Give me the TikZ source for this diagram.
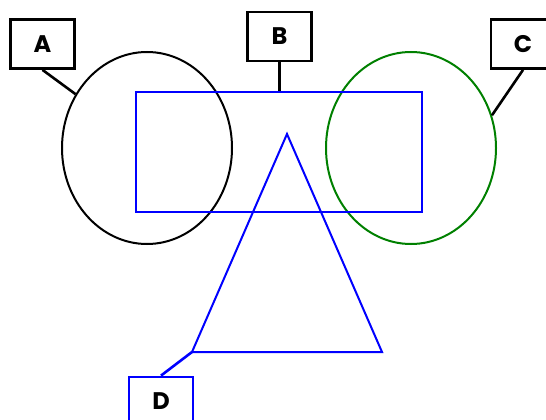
\documentclass[tikz,border=0pt]{standalone}
\usepackage{fontspec}
\setmainfont{Poppins}
\usetikzlibrary{shapes.geometric}

\begin{document}
\begin{tikzpicture}[
    x=1pt, y=-1pt, line width=2pt,
    lbl/.style={draw, rectangle, fill=white, line width=2.8pt, minimum width=64pt, minimum height=49pt, inner sep=0pt, font=\fontsize{24}{26}\selectfont\bfseries},
    oval/.style={draw, ellipse, minimum width=170pt, minimum height=192pt, inner sep=0pt},
    lead/.style={line width=2.6pt},
]
\useasboundingbox (0,0) rectangle (546,420);

% shapes
\node[oval] (ovalA) at (147,148) {};
\node[oval, draw={rgb,255:red,0;green,128;blue,0}] (ovalC) at (411,148) {};
\node[draw=blue, rectangle, minimum width=286pt, minimum height=120pt, inner sep=0pt] (rect) at (279,152) {};
\coordinate (apex) at (287,134);
\coordinate (triL) at (192,352);
\coordinate (triR) at (382,352);
\draw[blue] (apex) -- (triR) -- (triL) -- cycle;

% labels
\node[lbl] (lblA) at (42.5,44) {A};
\node[lbl] (lblB) at (279.5,36.5) {B};
\node[lbl] (lblC) at (523,44) {C};
\node[lbl, draw=blue] (lblD) at (161,401.5) {D};

\draw[lead] (lblA.south) -- (ovalA.143.6);
\draw[lead] (lblB.south) -- (lblB.south |- rect.north);
\draw[lead] (lblC.south) -- (ovalC.22.2);
\draw[lead, blue] (lblD.north) -- (triL);
\end{tikzpicture}
\end{document}
